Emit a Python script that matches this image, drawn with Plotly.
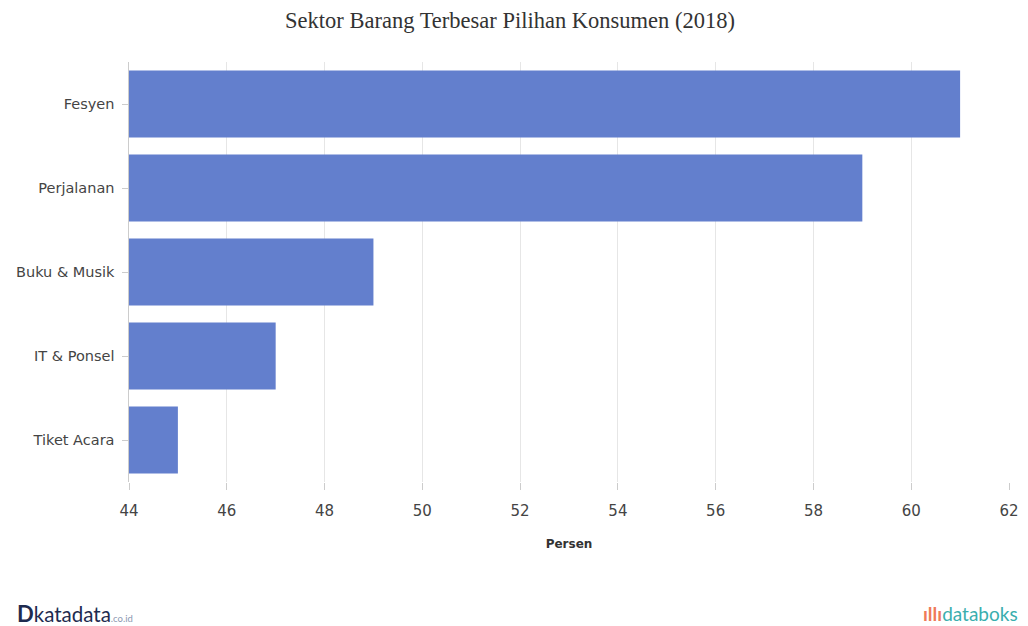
import plotly.graph_objects as go

categories = ["Fesyen", "Perjalanan", "Buku & Musik", "IT & Ponsel", "Tiket Acara"]
values = [61, 59, 49, 47, 45]
x_ticks = [44, 46, 48, 50, 52, 54, 56, 58, 60, 62]

W, H = 1020, 618
L, R, T, B = 121, 19, 54, 144
PW, PH = W - L - R, H - T - B

fig = go.Figure(go.Bar(
    y=categories, x=values, orientation="h",
    marker=dict(color="#637fcd", line=dict(width=0)),
    hoverinfo="x+y",
))

fig.update_layout(
    width=W, height=H,
    paper_bgcolor="white", plot_bgcolor="white",
    margin=dict(l=L, r=R, t=T, b=B),
    bargap=0.2,
    showlegend=False,
    title=dict(text="Sektor Barang Terbesar Pilihan Konsumen (2018)",
               x=(510 - 8) / W, xanchor="center", y=1 - 12 / H, yanchor="middle",
               font=dict(family="Liberation Serif", size=22.5, color="#333333")),
    font=dict(family="DejaVu Sans", size=14, color="#444444"),
)

fig.update_xaxes(
    range=[44, 62], tickvals=x_ticks, showgrid=True, gridcolor="#e6e6e6", gridwidth=1,
    zeroline=False, showline=False, ticks="outside", ticklen=7, tickcolor="#cccccc",
    tickfont=dict(size=15, color="#444444"), automargin=False, ticklabelstandoff=8,
    title=dict(text="<b>Persen</b>", font=dict(size=12, color="#333333"), standoff=20),
)
fig.update_yaxes(
    autorange="reversed", showgrid=False, zeroline=False,
    showline=True, linecolor="#cccccc", linewidth=1,
    ticks="outside", ticklen=6, tickcolor="#cccccc", automargin=False,
    tickfont=dict(size=14.5, color="#444444"), ticksuffix=" ",
)

# Footer logos (decorative text)
fig.add_annotation(xref="paper", yref="paper", x=(15 - 129) / PW, y=(482 - 613) / PH,
                   xanchor="left", yanchor="middle", showarrow=False,
                   text="<b>D</b><span style='font-size:20.5px'>katadata</span><span style='font-size:9.5px;color:#8a97b0'>.co.id</span>",
                   font=dict(family="Lato", size=22, color="#1e2b4f"))
fig.add_annotation(xref="paper", yref="paper", x=(1020 - 129) / PW, y=(482 - 613) / PH,
                   xanchor="right", yanchor="middle", showarrow=False,
                   text="<b><span style='color:#ef7a5a'>ıllı</span></b><span style='color:#3aaeae'>databoks</span>",
                   font=dict(family="Lato", size=19, color="#3aaeae"))

fig.write_html("out.html")
